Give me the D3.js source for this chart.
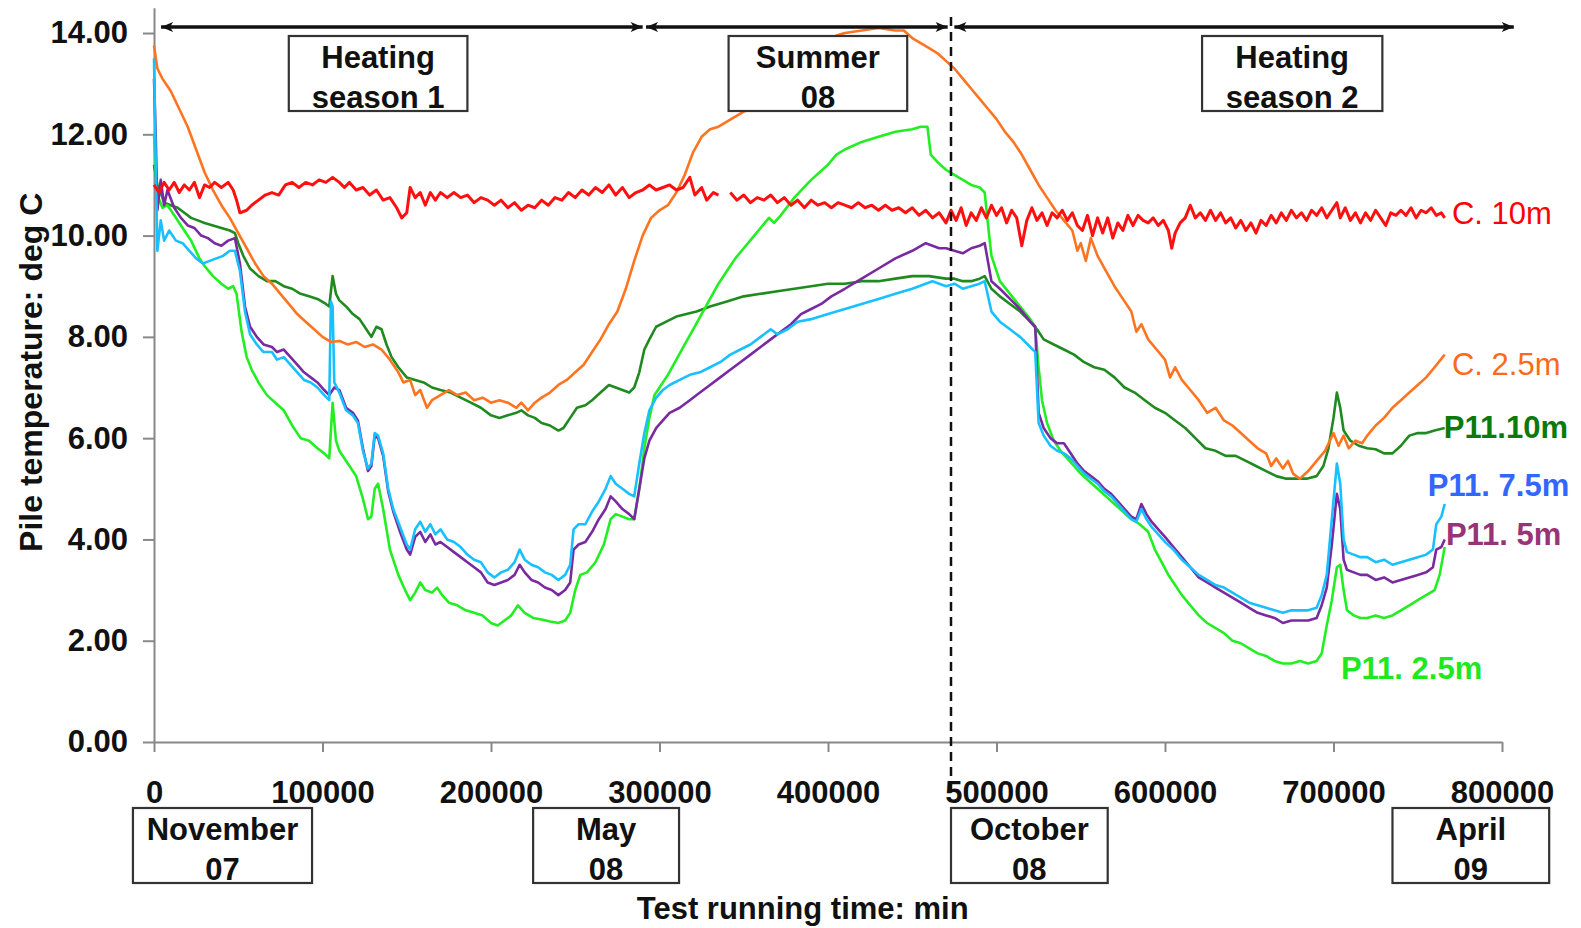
<!DOCTYPE html>
<html>
<head>
<meta charset="utf-8">
<script src="https://cdn.jsdelivr.net/npm/d3@7"></script>
<style>
body { margin: 0; background: #fff; }
text { font-family: "Liberation Sans", Arial, sans-serif; }
</style>
</head>
<body>
<div id="chart"></div>
<script>

// axis ticks
const xTicks = [0, 100000, 200000, 300000, 400000, 500000, 600000, 700000, 800000];
const yTicks = [0, 2, 4, 6, 8, 10, 12, 14];

// series: [test running time (min), pile temperature (deg C)]
const c10m = [[0,11.0],[3000,10.85],[6000,11.05],[9000,10.9],[12000,11.05],[15000,10.85],[18000,11.0],[21000,10.9],[24000,11.05],[27000,10.75],[30000,11.0],[33000,10.95],[36000,11.05],[40000,10.95],[44000,11.05],[47000,10.9],[49000,10.7],[51000,10.45],[55000,10.5],[58000,10.6],[62000,10.7],[66000,10.8],[70000,10.85],[74000,10.8],[78000,11.0],[82000,11.05],[86000,10.95],[90000,11.05],[94000,11.0],[98000,11.1],[102000,11.05],[106000,11.15],[110000,11.05],[113000,10.95],[116000,11.05],[120000,10.9],[124000,10.95],[128000,10.8],[132000,10.9],[136000,10.7],[140000,10.75],[144000,10.55],[147000,10.35],[150000,10.45],[152000,10.95],[155000,10.75],[158000,10.85],[161000,10.6],[164000,10.85],[167000,10.7],[170000,10.85],[174000,10.75],[178000,10.85],[182000,10.75],[186000,10.8],[190000,10.65],[194000,10.75],[198000,10.7],[202000,10.6],[206000,10.7],[210000,10.55],[214000,10.65],[218000,10.5],[222000,10.6],[226000,10.55],[230000,10.7],[234000,10.6],[238000,10.75],[242000,10.7],[246000,10.85],[250000,10.75],[254000,10.9],[258000,10.8],[262000,10.95],[266000,10.85],[270000,11.0],[274000,10.8],[278000,10.95],[282000,10.75],[286000,10.85],[290000,10.9],[294000,11.0],[298000,10.9],[302000,10.95],[306000,11.0],[310000,10.9],[314000,10.95],[318000,11.15],[321000,10.8],[325000,10.95],[328000,10.7],[332000,10.85],[335000,10.8],[338000,null],[342000,10.85],[346000,10.7],[350000,10.8],[354000,10.65],[358000,10.75],[362000,10.7],[366000,10.8],[370000,10.65],[374000,10.75],[378000,10.6],[382000,10.7],[386000,10.55],[390000,10.7],[394000,10.6],[398000,10.65],[402000,10.55],[406000,10.65],[410000,10.6],[414000,10.55],[418000,10.65],[422000,10.55],[426000,10.6],[430000,10.5],[434000,10.6],[438000,10.5],[442000,10.55],[446000,10.45],[450000,10.55],[454000,10.4],[458000,10.5],[462000,10.35],[466000,10.45],[470000,10.25],[473000,10.5],[476000,10.3],[479000,10.55],[482000,10.2],[485000,10.45],[488000,10.3],[491000,10.55],[494000,10.35],[497000,10.6],[500000,10.4],[503000,10.55],[506000,10.25],[509000,10.5],[512000,10.35],[515000,9.8],[518000,10.3],[521000,10.55],[524000,10.3],[527000,10.45],[530000,10.2],[533000,10.45],[536000,10.35],[539000,10.5],[542000,10.3],[545000,10.45],[548000,10.2],[551000,10.1],[554000,10.4],[557000,10.0],[560000,10.35],[563000,10.05],[566000,10.35],[569000,9.95],[572000,10.25],[575000,10.1],[578000,10.4],[581000,10.2],[584000,10.4],[587000,10.3],[590000,10.25],[593000,10.35],[596000,10.2],[599000,10.3],[602000,10.1],[604000,9.75],[606000,10.05],[609000,10.25],[612000,10.35],[615000,10.6],[618000,10.35],[621000,10.45],[624000,10.3],[627000,10.5],[630000,10.3],[633000,10.45],[636000,10.25],[639000,10.35],[642000,10.15],[645000,10.3],[648000,10.1],[651000,10.25],[654000,10.05],[657000,10.3],[660000,10.2],[663000,10.4],[666000,10.25],[669000,10.45],[672000,10.3],[675000,10.5],[678000,10.35],[681000,10.45],[684000,10.3],[687000,10.5],[690000,10.4],[693000,10.55],[696000,10.35],[699000,10.5],[702000,10.65],[704000,10.35],[707000,10.55],[710000,10.3],[713000,10.45],[716000,10.25],[719000,10.45],[722000,10.3],[725000,10.5],[728000,10.35],[731000,10.2],[734000,10.45],[737000,10.4],[740000,10.5],[743000,10.4],[746000,10.55],[749000,10.35],[752000,10.5],[755000,10.45],[758000,10.55],[761000,10.4],[764000,10.45],[766000,10.35]];

const c25m = [[0,13.75],[2000,13.3],[5000,13.1],[10000,12.85],[15000,12.5],[20000,12.15],[25000,11.7],[30000,11.25],[35000,10.9],[40000,10.6],[45000,10.35],[50000,10.05],[55000,9.75],[60000,9.45],[65000,9.2],[70000,9.05],[75000,8.85],[80000,8.65],[85000,8.45],[90000,8.3],[95000,8.15],[100000,8.0],[105000,7.9],[110000,7.92],[115000,7.85],[120000,7.9],[125000,7.8],[130000,7.85],[135000,7.75],[140000,7.55],[145000,7.3],[148000,7.1],[152000,7.15],[155000,6.85],[158000,6.95],[162000,6.6],[165000,6.75],[170000,6.85],[175000,6.95],[180000,6.85],[185000,6.9],[190000,6.75],[195000,6.8],[200000,6.7],[205000,6.75],[210000,6.7],[215000,6.6],[218000,6.7],[222000,6.55],[226000,6.7],[230000,6.8],[235000,6.9],[240000,7.05],[245000,7.15],[250000,7.3],[255000,7.45],[260000,7.7],[265000,7.95],[270000,8.25],[275000,8.5],[280000,8.95],[285000,9.5],[290000,10.0],[295000,10.35],[300000,10.5],[305000,10.6],[310000,10.85],[315000,11.2],[320000,11.65],[325000,11.95],[330000,12.1],[335000,12.15],[340000,12.25],[345000,12.35],[350000,12.45],[355000,12.5],[360000,12.6],[365000,12.65],[370000,12.8],[375000,12.9],[380000,13.05],[385000,13.2],[390000,13.45],[395000,13.7],[400000,13.85],[405000,13.95],[410000,14.0],[420000,14.05],[430000,14.1],[440000,14.05],[445000,14.05],[450000,13.9],[455000,13.8],[460000,13.7],[465000,13.6],[470000,13.45],[475000,13.3],[480000,13.1],[485000,12.9],[490000,12.7],[495000,12.5],[500000,12.3],[505000,12.05],[510000,11.85],[515000,11.6],[520000,11.3],[525000,11.0],[530000,10.75],[535000,10.5],[540000,10.3],[545000,10.1],[548000,9.7],[550000,9.85],[553000,9.5],[556000,9.95],[560000,9.6],[565000,9.3],[570000,9.0],[575000,8.75],[580000,8.5],[583000,8.1],[586000,8.25],[590000,7.95],[595000,7.75],[600000,7.55],[603000,7.2],[606000,7.4],[610000,7.15],[615000,6.95],[620000,6.75],[625000,6.5],[630000,6.6],[635000,6.35],[640000,6.25],[645000,6.1],[650000,5.95],[655000,5.8],[660000,5.7],[663000,5.45],[666000,5.6],[670000,5.4],[673000,5.55],[676000,5.3],[680000,5.2],[685000,5.35],[690000,5.55],[695000,5.75],[700000,6.1],[703000,5.85],[706000,6.05],[709000,5.8],[713000,5.95],[717000,5.9],[720000,6.05],[725000,6.25],[730000,6.4],[735000,6.6],[740000,6.75],[745000,6.9],[750000,7.05],[755000,7.2],[760000,7.4],[766000,7.65]];

const p11_10m = [[0,11.4],[2000,11.0],[4000,10.85],[6000,10.65],[10000,10.6],[14000,10.55],[18000,10.45],[22000,10.35],[26000,10.3],[30000,10.25],[35000,10.2],[40000,10.15],[45000,10.1],[48000,10.05],[50000,9.85],[53000,9.6],[57000,9.35],[62000,9.2],[67000,9.1],[72000,9.1],[77000,9.0],[82000,8.95],[87000,8.85],[92000,8.8],[97000,8.75],[102000,8.65],[104000,8.6],[106000,9.2],[108000,8.85],[110000,8.72],[114000,8.6],[118000,8.45],[122000,8.35],[126000,8.15],[129000,8.0],[132000,8.2],[135000,8.15],[138000,7.85],[141000,7.6],[145000,7.4],[150000,7.2],[155000,7.15],[160000,7.1],[165000,7.0],[170000,6.95],[176000,6.9],[182000,6.8],[188000,6.7],[194000,6.6],[200000,6.45],[205000,6.4],[210000,6.45],[215000,6.5],[218000,6.55],[222000,6.45],[226000,6.4],[230000,6.3],[235000,6.25],[240000,6.15],[243000,6.2],[247000,6.4],[251000,6.6],[256000,6.65],[260000,6.75],[265000,6.9],[270000,7.05],[274000,7.0],[278000,6.95],[282000,6.9],[285000,7.0],[288000,7.3],[291000,7.75],[294000,7.95],[298000,8.2],[304000,8.3],[310000,8.4],[316000,8.45],[322000,8.5],[330000,8.6],[340000,8.7],[350000,8.8],[360000,8.85],[370000,8.9],[380000,8.95],[390000,9.0],[400000,9.05],[410000,9.05],[420000,9.1],[430000,9.1],[440000,9.15],[450000,9.2],[460000,9.2],[470000,9.15],[475000,9.15],[480000,9.1],[485000,9.1],[490000,9.15],[493000,9.2],[497000,8.95],[502000,8.8],[508000,8.65],[514000,8.5],[520000,8.3],[524000,8.15],[528000,7.95],[534000,7.85],[540000,7.75],[546000,7.65],[552000,7.5],[558000,7.4],[564000,7.35],[570000,7.2],[576000,7.0],[582000,6.9],[588000,6.75],[594000,6.6],[600000,6.5],[606000,6.35],[612000,6.2],[618000,6.0],[624000,5.8],[630000,5.75],[636000,5.65],[642000,5.65],[648000,5.55],[654000,5.45],[660000,5.35],[666000,5.25],[672000,5.2],[678000,5.2],[684000,5.2],[690000,5.25],[694000,5.45],[697000,5.8],[700000,6.4],[702000,6.9],[704000,6.6],[706000,6.15],[710000,5.95],[715000,5.85],[720000,5.8],[725000,5.78],[730000,5.7],[735000,5.7],[740000,5.85],[745000,6.05],[750000,6.1],[755000,6.1],[760000,6.15],[766000,6.2]];

const p11_75m = [[0,13.5],[1000,11.5],[2000,9.7],[4000,10.3],[6000,9.9],[9000,10.1],[13000,9.9],[17000,9.85],[21000,9.7],[25000,9.55],[29000,9.45],[33000,9.5],[37000,9.55],[41000,9.6],[45000,9.7],[48000,9.7],[51000,9.3],[54000,8.5],[57000,8.05],[61000,7.85],[65000,7.7],[70000,7.7],[73000,7.55],[77000,7.6],[81000,7.45],[85000,7.3],[89000,7.15],[93000,7.1],[97000,7.0],[101000,6.85],[104000,6.75],[105000,8.7],[106000,8.6],[107000,7.1],[110000,6.9],[114000,6.55],[118000,6.45],[121000,6.3],[124000,5.75],[127000,5.4],[129000,5.5],[131000,6.1],[133000,6.05],[136000,5.7],[139000,5.0],[142000,4.6],[146000,4.25],[150000,3.9],[152000,3.8],[155000,4.2],[158000,4.35],[161000,4.15],[164000,4.3],[167000,4.1],[170000,4.2],[174000,4.0],[178000,3.95],[182000,3.85],[186000,3.7],[190000,3.6],[194000,3.55],[198000,3.35],[202000,3.25],[206000,3.35],[210000,3.4],[214000,3.55],[217000,3.8],[220000,3.6],[224000,3.5],[228000,3.45],[232000,3.35],[236000,3.3],[240000,3.2],[244000,3.3],[247000,3.5],[249000,4.2],[252000,4.3],[256000,4.3],[260000,4.55],[264000,4.75],[268000,5.0],[271000,5.25],[274000,5.1],[278000,5.0],[282000,4.9],[285000,4.85],[288000,5.5],[291000,6.1],[294000,6.55],[298000,6.8],[302000,6.95],[306000,7.05],[312000,7.15],[318000,7.25],[324000,7.3],[330000,7.4],[336000,7.5],[342000,7.65],[348000,7.75],[354000,7.85],[360000,8.0],[366000,8.15],[370000,8.05],[376000,8.15],[382000,8.3],[390000,8.35],[400000,8.45],[410000,8.55],[420000,8.65],[430000,8.75],[440000,8.85],[450000,8.95],[458000,9.05],[462000,9.1],[466000,9.05],[470000,9.0],[475000,9.05],[480000,8.95],[485000,9.0],[490000,9.05],[493000,9.1],[497000,8.5],[502000,8.3],[508000,8.15],[514000,8.0],[520000,7.8],[523000,7.7],[525000,6.3],[528000,6.05],[532000,5.85],[536000,5.75],[540000,5.7],[544000,5.6],[548000,5.45],[552000,5.3],[556000,5.2],[560000,5.1],[564000,4.95],[568000,4.85],[572000,4.7],[576000,4.55],[580000,4.4],[583000,4.35],[586000,4.6],[589000,4.4],[592000,4.25],[596000,4.1],[600000,3.95],[605000,3.8],[610000,3.6],[615000,3.45],[620000,3.3],[625000,3.2],[630000,3.1],[635000,3.05],[640000,2.95],[645000,2.85],[650000,2.75],[655000,2.7],[660000,2.65],[665000,2.6],[670000,2.55],[675000,2.6],[680000,2.6],[685000,2.6],[690000,2.65],[693000,2.9],[696000,3.3],[699000,4.4],[702000,5.5],[704000,5.1],[706000,4.0],[708000,3.75],[712000,3.7],[716000,3.65],[720000,3.65],[725000,3.55],[730000,3.6],[735000,3.5],[740000,3.55],[745000,3.6],[750000,3.65],[755000,3.7],[759000,3.8],[761000,4.3],[764000,4.45],[766000,4.7]];

const p11_5m = [[0,13.1],[1000,12.0],[2000,10.5],[4000,11.1],[6000,10.6],[8000,10.9],[12000,10.55],[16000,10.35],[20000,10.2],[24000,10.15],[28000,10.0],[32000,9.95],[36000,9.85],[40000,9.8],[44000,9.9],[48000,9.95],[51000,9.45],[54000,8.6],[57000,8.2],[61000,8.0],[65000,7.85],[70000,7.8],[73000,7.7],[77000,7.75],[81000,7.6],[85000,7.45],[89000,7.3],[93000,7.2],[97000,7.1],[101000,6.95],[104000,6.85],[107000,7.0],[110000,6.95],[114000,6.6],[118000,6.5],[121000,6.35],[124000,5.8],[127000,5.35],[129000,5.45],[131000,6.05],[133000,6.0],[136000,5.65],[139000,4.95],[142000,4.55],[146000,4.15],[150000,3.8],[152000,3.7],[155000,4.05],[158000,4.15],[161000,3.95],[164000,4.1],[167000,3.9],[170000,3.95],[174000,3.85],[178000,3.75],[182000,3.65],[186000,3.55],[190000,3.45],[194000,3.35],[198000,3.15],[202000,3.1],[206000,3.15],[210000,3.2],[214000,3.3],[217000,3.5],[220000,3.35],[224000,3.2],[228000,3.15],[232000,3.05],[236000,3.0],[240000,2.9],[244000,3.0],[247000,3.15],[249000,3.8],[252000,3.9],[256000,3.95],[260000,4.15],[264000,4.4],[268000,4.6],[271000,4.85],[274000,4.75],[278000,4.6],[282000,4.5],[285000,4.4],[288000,5.0],[291000,5.6],[294000,5.95],[298000,6.2],[302000,6.35],[306000,6.5],[312000,6.6],[318000,6.75],[324000,6.9],[330000,7.05],[336000,7.2],[342000,7.35],[348000,7.5],[354000,7.65],[360000,7.8],[366000,7.95],[372000,8.1],[378000,8.25],[384000,8.45],[390000,8.55],[396000,8.65],[402000,8.8],[410000,8.95],[420000,9.15],[430000,9.35],[440000,9.55],[450000,9.7],[458000,9.85],[462000,9.8],[466000,9.75],[470000,9.75],[475000,9.7],[480000,9.65],[485000,9.75],[490000,9.8],[493000,9.85],[497000,9.1],[502000,8.95],[508000,8.75],[514000,8.55],[520000,8.3],[523000,8.2],[525000,6.5],[528000,6.2],[532000,6.0],[536000,5.9],[540000,5.9],[544000,5.7],[548000,5.5],[552000,5.35],[556000,5.25],[560000,5.15],[564000,5.0],[568000,4.9],[572000,4.75],[576000,4.6],[580000,4.45],[583000,4.4],[586000,4.7],[589000,4.5],[592000,4.35],[596000,4.2],[600000,4.05],[605000,3.85],[610000,3.65],[615000,3.45],[620000,3.25],[625000,3.15],[630000,3.05],[635000,2.95],[640000,2.85],[645000,2.75],[650000,2.65],[655000,2.55],[660000,2.5],[665000,2.45],[670000,2.35],[675000,2.4],[680000,2.4],[685000,2.4],[690000,2.45],[693000,2.7],[696000,3.05],[699000,3.9],[702000,4.9],[704000,4.6],[706000,3.6],[708000,3.4],[712000,3.35],[716000,3.3],[720000,3.3],[725000,3.2],[730000,3.25],[735000,3.15],[740000,3.2],[745000,3.25],[750000,3.3],[755000,3.35],[759000,3.45],[761000,3.8],[764000,3.85],[766000,4.0]];

const p11_25m = [[0,12.0],[1000,11.3],[2000,10.8],[5000,10.55],[8000,10.6],[12000,10.4],[17000,10.15],[22000,9.9],[27000,9.55],[30000,9.4],[35000,9.2],[40000,9.05],[44000,8.95],[47000,9.0],[49000,8.85],[52000,8.1],[55000,7.6],[58000,7.35],[62000,7.1],[67000,6.85],[72000,6.7],[77000,6.55],[82000,6.25],[87000,6.0],[92000,5.95],[97000,5.8],[101000,5.7],[104000,5.6],[106000,6.7],[108000,5.95],[110000,5.75],[115000,5.5],[120000,5.25],[124000,4.8],[127000,4.4],[129000,4.45],[131000,5.0],[133000,5.1],[136000,4.6],[140000,3.8],[145000,3.3],[149000,3.0],[152000,2.8],[155000,2.95],[158000,3.15],[161000,3.0],[165000,2.95],[168000,3.05],[171000,2.9],[175000,2.75],[180000,2.7],[185000,2.6],[190000,2.55],[195000,2.5],[200000,2.35],[204000,2.3],[208000,2.4],[212000,2.5],[216000,2.7],[220000,2.55],[225000,2.45],[230000,2.42],[235000,2.38],[240000,2.35],[244000,2.4],[247000,2.55],[250000,3.0],[253000,3.3],[257000,3.35],[262000,3.55],[267000,3.9],[271000,4.4],[274000,4.5],[278000,4.45],[282000,4.4],[285000,4.4],[288000,5.0],[291000,5.8],[294000,6.4],[297000,6.85],[300000,7.0],[305000,7.25],[310000,7.55],[315000,7.85],[320000,8.15],[325000,8.45],[330000,8.75],[335000,9.05],[340000,9.3],[345000,9.55],[350000,9.75],[355000,9.95],[360000,10.15],[365000,10.35],[368000,10.25],[372000,10.4],[380000,10.75],[390000,11.1],[400000,11.4],[405000,11.6],[410000,11.7],[420000,11.85],[430000,11.95],[440000,12.05],[450000,12.1],[455000,12.15],[459000,12.15],[461000,11.6],[465000,11.45],[470000,11.3],[475000,11.2],[480000,11.1],[485000,11.0],[490000,10.95],[493000,10.85],[495000,10.2],[497000,9.6],[502000,9.1],[508000,8.85],[514000,8.6],[520000,8.35],[523000,8.2],[525000,7.4],[527000,6.75],[530000,6.3],[534000,5.95],[538000,5.75],[542000,5.6],[546000,5.45],[550000,5.3],[555000,5.15],[560000,5.0],[565000,4.85],[570000,4.7],[575000,4.55],[580000,4.4],[585000,4.3],[590000,4.15],[594000,3.8],[598000,3.55],[602000,3.3],[606000,3.1],[610000,2.9],[615000,2.7],[620000,2.5],[625000,2.35],[630000,2.25],[635000,2.15],[640000,2.0],[645000,1.95],[650000,1.85],[655000,1.75],[660000,1.7],[665000,1.6],[670000,1.55],[675000,1.55],[680000,1.6],[685000,1.55],[690000,1.6],[693000,1.75],[696000,2.3],[699000,2.8],[702000,3.45],[704000,3.5],[706000,3.0],[708000,2.6],[712000,2.5],[716000,2.45],[720000,2.45],[725000,2.5],[730000,2.45],[735000,2.5],[740000,2.6],[745000,2.7],[750000,2.8],[755000,2.9],[760000,3.0],[763000,3.3],[766000,3.85]];

// series styling, drawing order
const seriesList = [
    { name: "P11.10m", data: p11_10m, line: "#1f8a1f", label: "#0a7a0a", bold: true, at: [765500, 6.22] },
    { name: "P11. 2.5m", data: p11_25m, line: "#22ee22", label: "#1ee81e", bold: true, at: [704400, 1.46] },
    { name: "P11. 5m", data: p11_5m, line: "#7a2aa0", label: "#993377", bold: true, at: [766700, 4.11] },
    { name: "P11. 7.5m", data: p11_75m, line: "#18c0ff", label: "#3366ff", bold: true, at: [756000, 5.07] },
    { name: "C. 2.5m", data: c25m, line: "#ff7420", label: "#ff6a1a", bold: false, at: [770300, 7.46] },
    { name: "C. 10m", data: c10m, line: "#ff1010", label: "#ff0000", bold: false, at: [770300, 10.45] }
];

// period annotations (minutes)
const periods = [[4200, 290000], [292000, 471000], [475000, 807000]];
const topBoxes = [
    { lines: ["Heating", "season 1"], span: [80000, 186000] },
    { lines: ["Summer", "08"], span: [341000, 447000] },
    { lines: ["Heating", "season 2"], span: [622000, 729000] }
];
const bottomBoxes = [
    { lines: ["November", "07"], span: [-12500, 93800] },
    { lines: ["May", "08"], span: [225000, 311600] },
    { lines: ["October", "08"], span: [473000, 566000] },
    { lines: ["April", "09"], span: [735000, 828000] }
];
const switchTime = 473000;

const width = 1581, height = 928;

const svg = d3.select("#chart")
    .append("svg")
    .attr("width", width)
    .attr("height", height)
    .style("background", "#fff");

const x = d3.scaleLinear().domain([0, 800000]).range([154, 1502]);
const y = d3.scaleLinear().domain([0, 14.5]).range([742, 7.7]);

// axes
const yAxis = svg.append("g")
    .attr("transform", "translate(" + x(0) + ",0)")
    .call(d3.axisLeft(y).tickValues(yTicks).tickSize(11).tickSizeOuter(0).tickPadding(15).tickFormat(d3.format(".2f")));

const xAxis = svg.append("g")
    .attr("transform", "translate(0," + y(0) + ")")
    .call(d3.axisBottom(x).tickValues(xTicks).tickSize(10).tickSizeOuter(0).tickPadding(29).tickFormat(d3.format("d")));

[xAxis, yAxis].forEach(function(g) {
    g.select(".domain").attr("stroke", "#888").attr("stroke-width", 2);
    g.selectAll(".tick line").attr("stroke", "#888").attr("stroke-width", 2);
    g.selectAll(".tick text")
        .attr("fill", "#111")
        .style("font-size", "31px")
        .style("font-weight", "bold")
        .style("font-family", "'Liberation Sans', Arial, sans-serif");
});

// axis titles
svg.append("text")
    .attr("transform", "translate(42," + y(7.3) + ") rotate(-90)")
    .attr("text-anchor", "middle")
    .style("font-size", "32px")
    .style("font-weight", "bold")
    .attr("fill", "#111")
    .text("Pile temperature: deg C");

svg.append("text")
    .attr("x", x(385000))
    .attr("y", 919)
    .attr("text-anchor", "middle")
    .style("font-size", "31px")
    .style("font-weight", "bold")
    .attr("fill", "#111")
    .text("Test running time: min");

// series lines
const line = d3.line()
    .defined(function(d) { return d[1] !== null; })
    .x(function(d) { return x(d[0]); })
    .y(function(d) { return y(d[1]); });

svg.append("g")
    .selectAll("path")
    .data(seriesList)
    .enter()
    .append("path")
    .attr("d", function(d) { return line(d.data); })
    .attr("fill", "none")
    .attr("stroke", function(d) { return d.line; })
    .attr("stroke-width", function(d) { return d.name == "C. 10m" ? 3 : 2.6; })
    .attr("stroke-linejoin", "round");

svg.append("g")
    .selectAll("text")
    .data(seriesList)
    .enter()
    .append("text")
    .attr("x", function(d) { return x(d.at[0]); })
    .attr("y", function(d) { return y(d.at[1]); })
    .attr("dy", "0.36em")
    .style("font-size", "31px")
    .style("font-weight", function(d) { return d.bold ? "bold" : "normal"; })
    .attr("fill", function(d) { return d.label; })
    .text(function(d) { return d.name; });

// season switch
svg.append("line")
    .attr("x1", x(switchTime))
    .attr("x2", x(switchTime))
    .attr("y1", 17)
    .attr("y2", 790)
    .attr("stroke", "#111")
    .attr("stroke-width", 2.5)
    .attr("stroke-dasharray", "9,6");

// period arrows
svg.append("defs")
    .append("marker")
    .attr("id", "head")
    .attr("viewBox", "0 0 12 10")
    .attr("refX", 12)
    .attr("refY", 5)
    .attr("markerWidth", 13)
    .attr("markerHeight", 10)
    .attr("markerUnits", "userSpaceOnUse")
    .attr("orient", "auto-start-reverse")
    .append("path")
    .attr("d", "M0,0 L12,5 L0,10 L3,5 Z")
    .attr("fill", "#111");

svg.append("g")
    .selectAll("line")
    .data(periods)
    .enter()
    .append("line")
    .attr("x1", function(d) { return x(d[0]); })
    .attr("x2", function(d) { return x(d[1]); })
    .attr("y1", 27)
    .attr("y2", 27)
    .attr("stroke", "#111")
    .attr("stroke-width", 3.5)
    .attr("marker-start", "url(#head)")
    .attr("marker-end", "url(#head)");

// label boxes
function drawBoxes(boxes, top, bottom, base1, base2) {
    const g = svg.append("g")
        .selectAll("g")
        .data(boxes)
        .enter()
        .append("g");

    g.append("rect")
        .attr("x", function(d) { return x(d.span[0]); })
        .attr("y", top)
        .attr("width", function(d) { return x(d.span[1]) - x(d.span[0]); })
        .attr("height", bottom - top)
        .attr("fill", "#fff")
        .attr("stroke", "#333")
        .attr("stroke-width", 2.2);

    g.append("text")
        .attr("x", function(d) { return (x(d.span[0]) + x(d.span[1])) / 2; })
        .attr("y", base1)
        .attr("text-anchor", "middle")
        .style("font-size", "31px")
        .style("font-weight", "bold")
        .attr("fill", "#111")
        .text(function(d) { return d.lines[0]; });

    g.append("text")
        .attr("x", function(d) { return (x(d.span[0]) + x(d.span[1])) / 2; })
        .attr("y", base2)
        .attr("text-anchor", "middle")
        .style("font-size", "31px")
        .style("font-weight", "bold")
        .attr("fill", "#111")
        .text(function(d) { return d.lines[1]; });
}

drawBoxes(topBoxes, 36, 111, 68, 108);
drawBoxes(bottomBoxes, 808, 883, 840, 880);

</script>
</body>
</html>
